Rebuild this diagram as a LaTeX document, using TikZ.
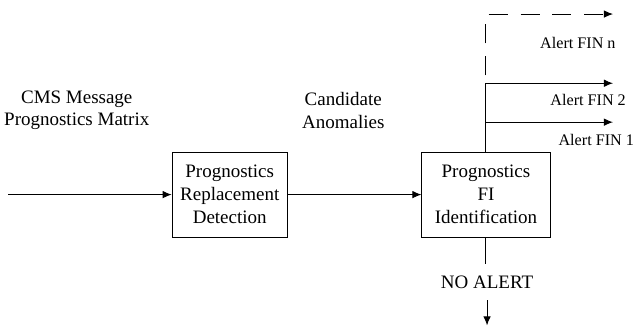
\documentclass[tikz,border=0pt]{standalone}
\usepackage{fontspec}
\setmainfont{Liberation Serif}
\usetikzlibrary{arrows.meta}

\tikzset{
  block/.style={draw, line width=0.5pt, align=center, minimum height=1.57cm},
  flow/.style={line width=0.5pt, -{Latex[length=4.8pt, width=4pt]}},
  alertlabel/.style={font=\fontsize{8.5}{10}\selectfont}
}

\begin{document}
\begin{tikzpicture}
    \useasboundingbox (0, 0) rectangle (11.71, 6.09);

    % Blocks
    \node [block, minimum width=2.13cm] (detect) at (4.25, 2.49)
          {Prognostics\\Replacement\\Detection};
    \node [block, minimum width=2.37cm] (ident) at (8.99, 2.49)
          {Prognostics\\FI\\Identification};

    % Input and labels
    \coordinate (input) at (0.15, 2.49);
    \node [align=center] (cms) at (1.42, 4.05) {CMS Message\\Prognostics Matrix};
    \node [align=center] (cand) at (6.35, 4.05) {Candidate\\Anomalies};

    % Edges
    \draw [flow] (input) -- (detect.west);
    \draw [flow] (detect.east) -- (ident.west);

    % Alert branches
    \coordinate (fin1) at (ident.north |- 0, 3.83);
    \coordinate (fin2) at (ident.north |- 0, 4.55);
    \coordinate (finn) at (ident.north |- 0, 5.83);
    \coordinate (fin1 end) at (11.34, 3.83);
    \coordinate (fin2 end) at (11.34, 4.55);
    \coordinate (finn end) at (11.34, 5.83);

    \draw [line width=0.5pt] (ident.north) -- (fin2);
    \draw [flow] (fin1) -- (fin1 end);
    \draw [flow] (fin2) -- (fin2 end);
    \draw [flow, dash pattern=on 10pt off 6.8pt, dash phase=12.6pt]
          (fin2) -- (finn) -- (finn end);

    \node [alertlabel] (lbl n) at (10.69, 5.29) {Alert FIN n};
    \node [alertlabel] (lbl 2) at (10.88, 4.24) {Alert FIN 2};
    \node [alertlabel] (lbl 1) at (11.03, 3.50) {Alert FIN 1};

    % No alert
    \node [inner sep=6pt] (none) at (9.01, 0.87) {NO ALERT};
    \coordinate (none end) at (9.01, 0.07);
    \draw [line width=0.5pt] (ident.south) -- (ident.south |- none.north);
    \draw [flow] (none.south) -- (none end);
\end{tikzpicture}
\end{document}
